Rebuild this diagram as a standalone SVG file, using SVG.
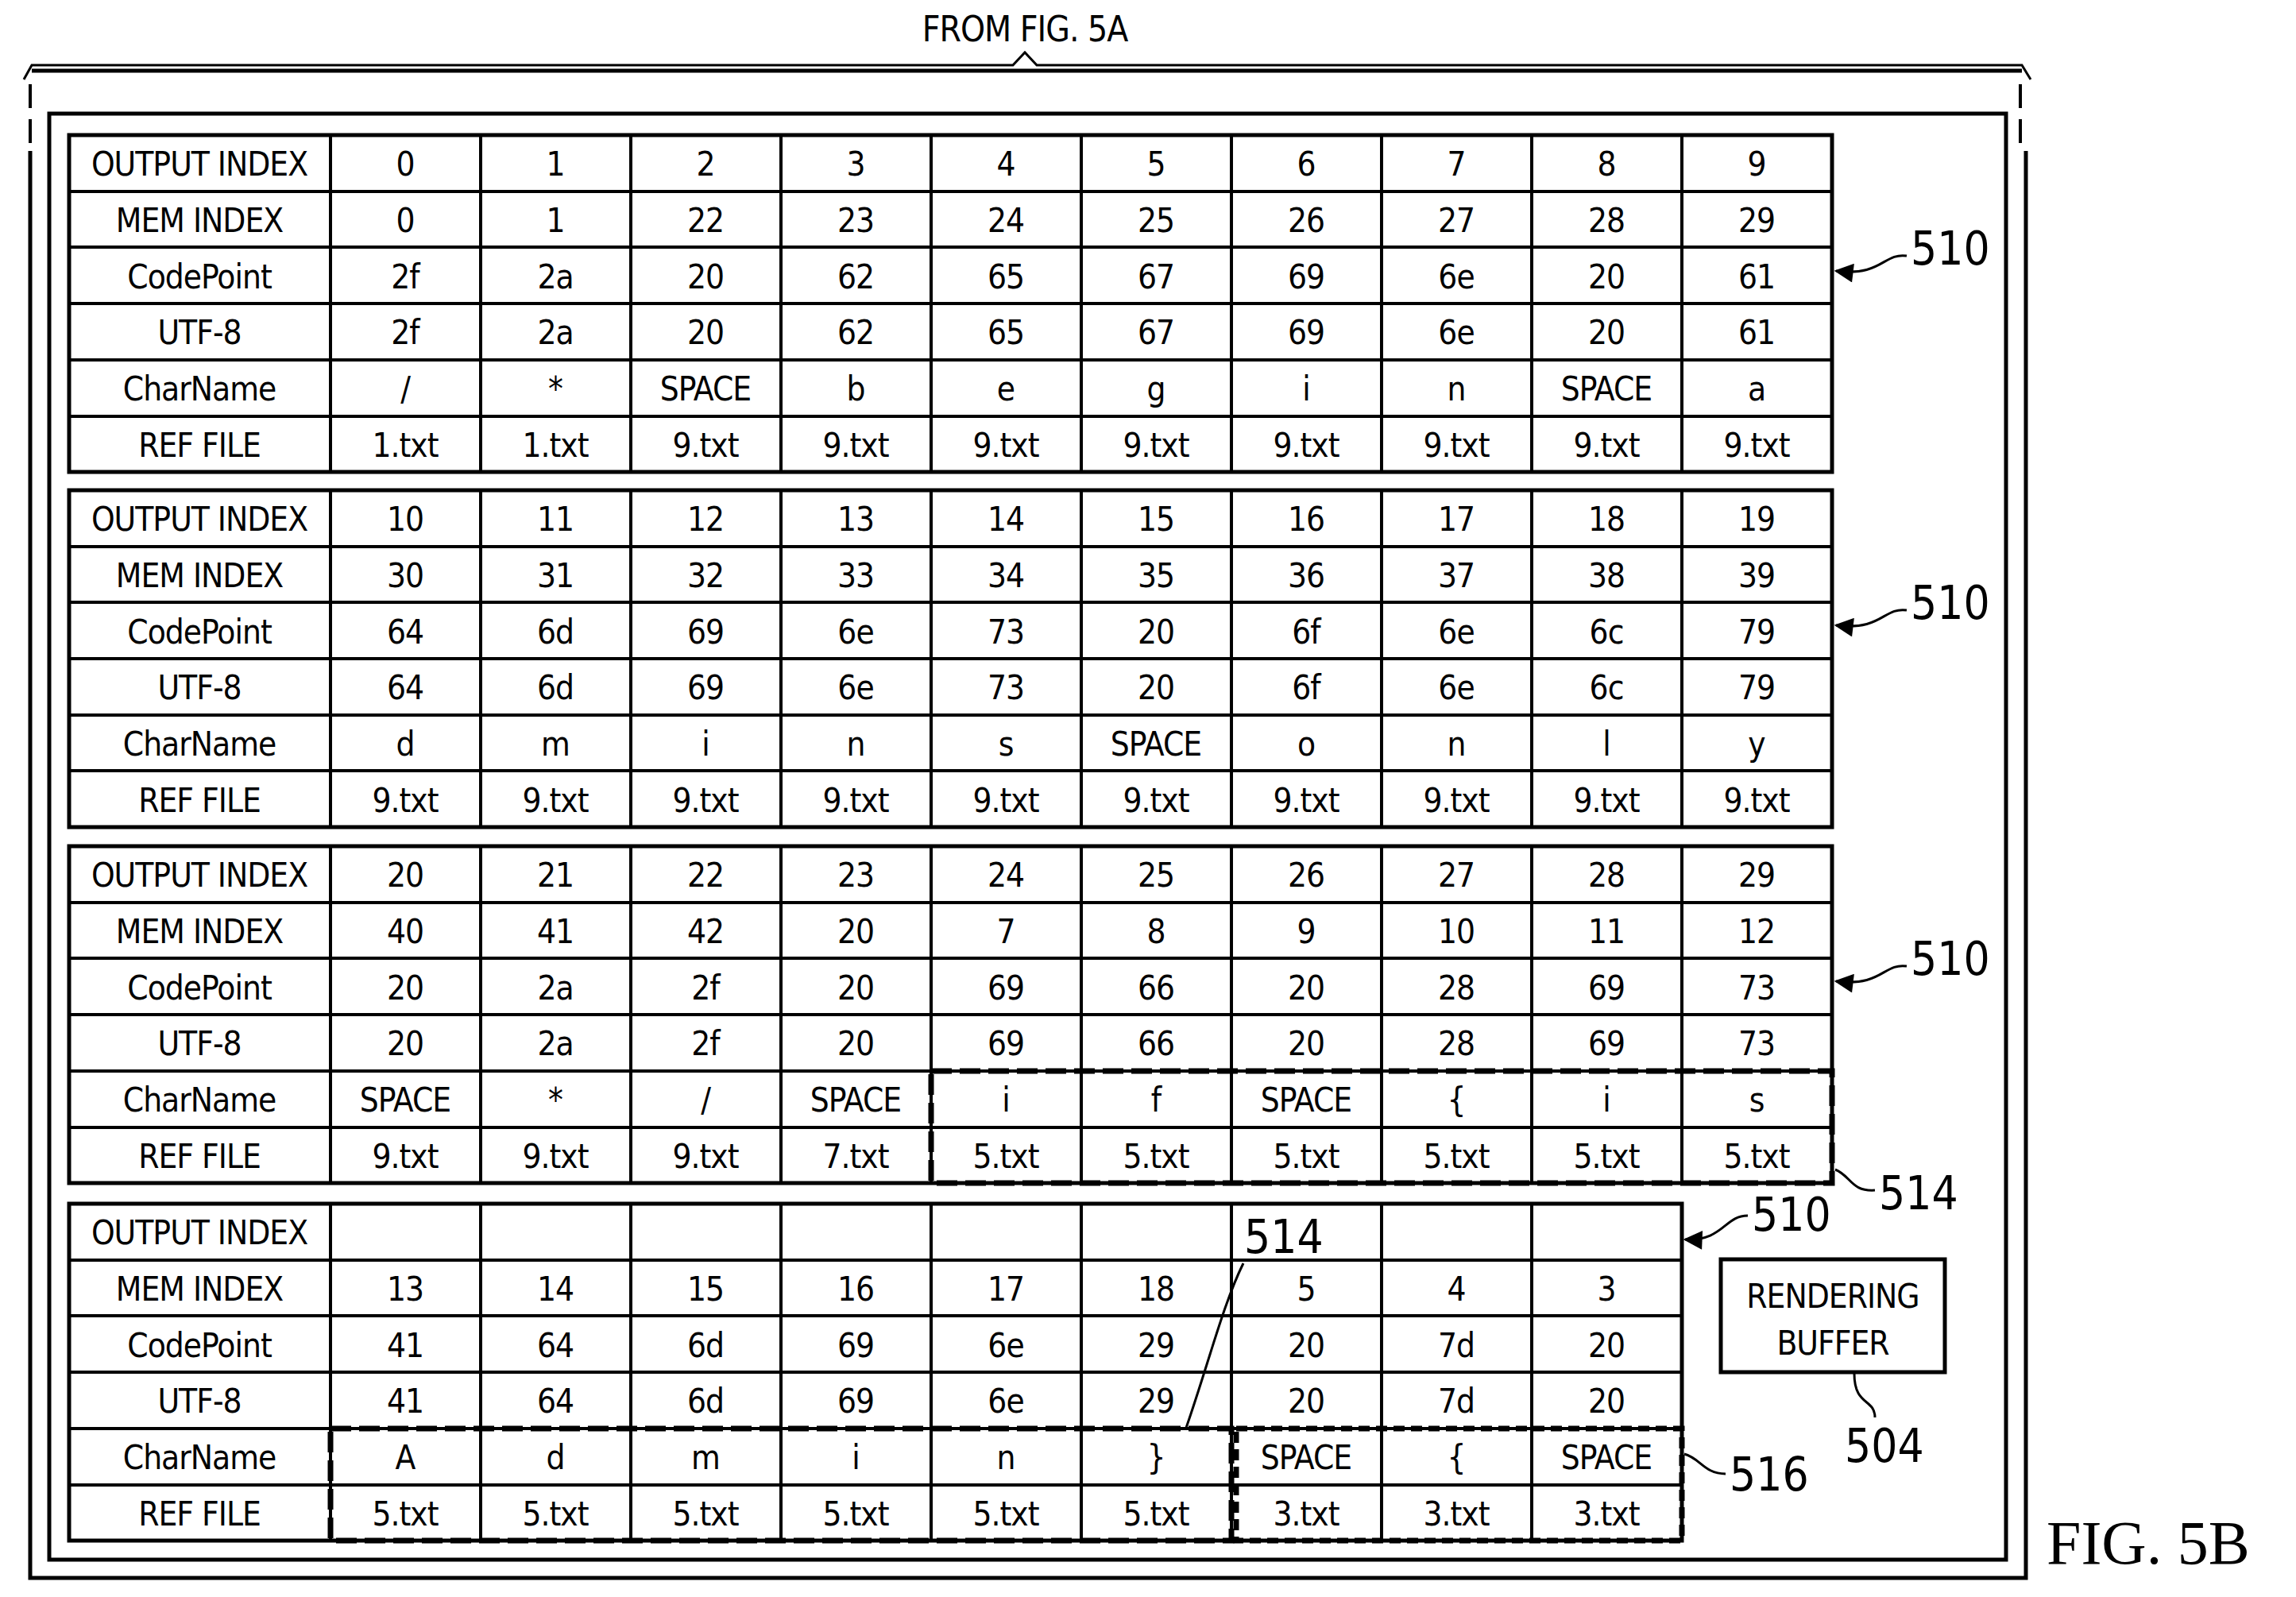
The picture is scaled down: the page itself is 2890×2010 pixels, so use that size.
<svg xmlns="http://www.w3.org/2000/svg" width="2890" height="2010" viewBox="0 0 2890 2010">
<style>
.t{font-family:"DejaVu Sans Condensed","Liberation Sans",sans-serif;font-size:42px;text-anchor:middle;fill:#000;letter-spacing:-1px}
.r{font-family:"DejaVu Sans Condensed","Liberation Sans",sans-serif;font-size:58px;fill:#000}
.g{fill:none;stroke:#000;stroke-width:4}
.b{fill:none;stroke:#000;stroke-width:5}
.d{fill:none;stroke:#000;stroke-width:7;stroke-dasharray:26,10}
.d2{fill:none;stroke:#000;stroke-width:7;stroke-dasharray:14,8}
.l{fill:none;stroke:#000;stroke-width:3}
</style>
<defs>
<marker id="ah" viewBox="0 0 10 10" refX="9" refY="5" markerWidth="30" markerHeight="24" orient="auto" markerUnits="userSpaceOnUse"><path d="M0,0 L10,5 L0,10 z"/></marker></defs>
<text class="t" x="1290" y="52" style="font-size:44px">FROM FIG. 5A</text>
<path class="l" d="M30,100 L40,82 L1275,82 L1290,66 L1305,82 L2545,82 L2556,100"/>
<path class="b" d="M40,89 L2545,89"/>
<path class="g" d="M38,106 V190 M2543,106 V190" style="stroke-dasharray:30,14"/>
<path class="b" d="M38,190 V1986 H2550 V190"/>
<rect class="b" x="62" y="143" width="2463" height="1820"/>
<g id="table1">
<rect class="b" x="87" y="170" width="2219" height="424"/>
<path class="g" d="M87,241H2306M87,311H2306M87,382H2306M87,453H2306M87,524H2306M416,170V594M605,170V594M794,170V594M983,170V594M1172,170V594M1361,170V594M1550,170V594M1739,170V594M1928,170V594M2117,170V594"/>
<text class="t" x="251" y="221">OUTPUT INDEX</text><text class="t" x="251" y="292">MEM INDEX</text><text class="t" x="251" y="363">CodePoint</text><text class="t" x="251" y="433">UTF-8</text><text class="t" x="251" y="504">CharName</text><text class="t" x="251" y="575">REF FILE</text>
<text class="t" y="221"><tspan x="510">0</tspan><tspan x="699">1</tspan><tspan x="888">2</tspan><tspan x="1077">3</tspan><tspan x="1266">4</tspan><tspan x="1455">5</tspan><tspan x="1644">6</tspan><tspan x="1833">7</tspan><tspan x="2022">8</tspan><tspan x="2211">9</tspan></text>
<text class="t" y="292"><tspan x="510">0</tspan><tspan x="699">1</tspan><tspan x="888">22</tspan><tspan x="1077">23</tspan><tspan x="1266">24</tspan><tspan x="1455">25</tspan><tspan x="1644">26</tspan><tspan x="1833">27</tspan><tspan x="2022">28</tspan><tspan x="2211">29</tspan></text>
<text class="t" y="363"><tspan x="510">2f</tspan><tspan x="699">2a</tspan><tspan x="888">20</tspan><tspan x="1077">62</tspan><tspan x="1266">65</tspan><tspan x="1455">67</tspan><tspan x="1644">69</tspan><tspan x="1833">6e</tspan><tspan x="2022">20</tspan><tspan x="2211">61</tspan></text>
<text class="t" y="433"><tspan x="510">2f</tspan><tspan x="699">2a</tspan><tspan x="888">20</tspan><tspan x="1077">62</tspan><tspan x="1266">65</tspan><tspan x="1455">67</tspan><tspan x="1644">69</tspan><tspan x="1833">6e</tspan><tspan x="2022">20</tspan><tspan x="2211">61</tspan></text>
<text class="t" y="504"><tspan x="510">/</tspan><tspan x="699">*</tspan><tspan x="888">SPACE</tspan><tspan x="1077">b</tspan><tspan x="1266">e</tspan><tspan x="1455">g</tspan><tspan x="1644">i</tspan><tspan x="1833">n</tspan><tspan x="2022">SPACE</tspan><tspan x="2211">a</tspan></text>
<text class="t" y="575"><tspan x="510">1.txt</tspan><tspan x="699">1.txt</tspan><tspan x="888">9.txt</tspan><tspan x="1077">9.txt</tspan><tspan x="1266">9.txt</tspan><tspan x="1455">9.txt</tspan><tspan x="1644">9.txt</tspan><tspan x="1833">9.txt</tspan><tspan x="2022">9.txt</tspan><tspan x="2211">9.txt</tspan></text>
</g>
<g id="table2">
<rect class="b" x="87" y="617" width="2219" height="424"/>
<path class="g" d="M87,688H2306M87,758H2306M87,829H2306M87,900H2306M87,970H2306M416,617V1041M605,617V1041M794,617V1041M983,617V1041M1172,617V1041M1361,617V1041M1550,617V1041M1739,617V1041M1928,617V1041M2117,617V1041"/>
<text class="t" x="251" y="668">OUTPUT INDEX</text><text class="t" x="251" y="739">MEM INDEX</text><text class="t" x="251" y="810">CodePoint</text><text class="t" x="251" y="880">UTF-8</text><text class="t" x="251" y="951">CharName</text><text class="t" x="251" y="1022">REF FILE</text>
<text class="t" y="668"><tspan x="510">10</tspan><tspan x="699">11</tspan><tspan x="888">12</tspan><tspan x="1077">13</tspan><tspan x="1266">14</tspan><tspan x="1455">15</tspan><tspan x="1644">16</tspan><tspan x="1833">17</tspan><tspan x="2022">18</tspan><tspan x="2211">19</tspan></text>
<text class="t" y="739"><tspan x="510">30</tspan><tspan x="699">31</tspan><tspan x="888">32</tspan><tspan x="1077">33</tspan><tspan x="1266">34</tspan><tspan x="1455">35</tspan><tspan x="1644">36</tspan><tspan x="1833">37</tspan><tspan x="2022">38</tspan><tspan x="2211">39</tspan></text>
<text class="t" y="810"><tspan x="510">64</tspan><tspan x="699">6d</tspan><tspan x="888">69</tspan><tspan x="1077">6e</tspan><tspan x="1266">73</tspan><tspan x="1455">20</tspan><tspan x="1644">6f</tspan><tspan x="1833">6e</tspan><tspan x="2022">6c</tspan><tspan x="2211">79</tspan></text>
<text class="t" y="880"><tspan x="510">64</tspan><tspan x="699">6d</tspan><tspan x="888">69</tspan><tspan x="1077">6e</tspan><tspan x="1266">73</tspan><tspan x="1455">20</tspan><tspan x="1644">6f</tspan><tspan x="1833">6e</tspan><tspan x="2022">6c</tspan><tspan x="2211">79</tspan></text>
<text class="t" y="951"><tspan x="510">d</tspan><tspan x="699">m</tspan><tspan x="888">i</tspan><tspan x="1077">n</tspan><tspan x="1266">s</tspan><tspan x="1455">SPACE</tspan><tspan x="1644">o</tspan><tspan x="1833">n</tspan><tspan x="2022">l</tspan><tspan x="2211">y</tspan></text>
<text class="t" y="1022"><tspan x="510">9.txt</tspan><tspan x="699">9.txt</tspan><tspan x="888">9.txt</tspan><tspan x="1077">9.txt</tspan><tspan x="1266">9.txt</tspan><tspan x="1455">9.txt</tspan><tspan x="1644">9.txt</tspan><tspan x="1833">9.txt</tspan><tspan x="2022">9.txt</tspan><tspan x="2211">9.txt</tspan></text>
</g>
<g id="table3">
<rect class="b" x="87" y="1065" width="2219" height="424"/>
<path class="g" d="M87,1136H2306M87,1206H2306M87,1277H2306M87,1348H2306M87,1419H2306M416,1065V1489M605,1065V1489M794,1065V1489M983,1065V1489M1172,1065V1489M1361,1065V1489M1550,1065V1489M1739,1065V1489M1928,1065V1489M2117,1065V1489"/>
<text class="t" x="251" y="1116">OUTPUT INDEX</text><text class="t" x="251" y="1187">MEM INDEX</text><text class="t" x="251" y="1258">CodePoint</text><text class="t" x="251" y="1328">UTF-8</text><text class="t" x="251" y="1399">CharName</text><text class="t" x="251" y="1470">REF FILE</text>
<text class="t" y="1116"><tspan x="510">20</tspan><tspan x="699">21</tspan><tspan x="888">22</tspan><tspan x="1077">23</tspan><tspan x="1266">24</tspan><tspan x="1455">25</tspan><tspan x="1644">26</tspan><tspan x="1833">27</tspan><tspan x="2022">28</tspan><tspan x="2211">29</tspan></text>
<text class="t" y="1187"><tspan x="510">40</tspan><tspan x="699">41</tspan><tspan x="888">42</tspan><tspan x="1077">20</tspan><tspan x="1266">7</tspan><tspan x="1455">8</tspan><tspan x="1644">9</tspan><tspan x="1833">10</tspan><tspan x="2022">11</tspan><tspan x="2211">12</tspan></text>
<text class="t" y="1258"><tspan x="510">20</tspan><tspan x="699">2a</tspan><tspan x="888">2f</tspan><tspan x="1077">20</tspan><tspan x="1266">69</tspan><tspan x="1455">66</tspan><tspan x="1644">20</tspan><tspan x="1833">28</tspan><tspan x="2022">69</tspan><tspan x="2211">73</tspan></text>
<text class="t" y="1328"><tspan x="510">20</tspan><tspan x="699">2a</tspan><tspan x="888">2f</tspan><tspan x="1077">20</tspan><tspan x="1266">69</tspan><tspan x="1455">66</tspan><tspan x="1644">20</tspan><tspan x="1833">28</tspan><tspan x="2022">69</tspan><tspan x="2211">73</tspan></text>
<text class="t" y="1399"><tspan x="510">SPACE</tspan><tspan x="699">*</tspan><tspan x="888">/</tspan><tspan x="1077">SPACE</tspan><tspan x="1266">i</tspan><tspan x="1455">f</tspan><tspan x="1644">SPACE</tspan><tspan x="1833">{</tspan><tspan x="2022">i</tspan><tspan x="2211">s</tspan></text>
<text class="t" y="1470"><tspan x="510">9.txt</tspan><tspan x="699">9.txt</tspan><tspan x="888">9.txt</tspan><tspan x="1077">7.txt</tspan><tspan x="1266">5.txt</tspan><tspan x="1455">5.txt</tspan><tspan x="1644">5.txt</tspan><tspan x="1833">5.txt</tspan><tspan x="2022">5.txt</tspan><tspan x="2211">5.txt</tspan></text>
<rect class="d" x="1172" y="1348" width="1134" height="141"/>
</g>
<g id="table4">
<rect class="b" x="87" y="1515" width="2030" height="424"/>
<path class="g" d="M87,1586H2117M87,1656H2117M87,1727H2117M87,1798H2117M87,1869H2117M416,1515V1939M605,1515V1939M794,1515V1939M983,1515V1939M1172,1515V1939M1361,1515V1939M1550,1515V1939M1739,1515V1939M1928,1515V1939"/>
<text class="t" x="251" y="1566">OUTPUT INDEX</text><text class="t" x="251" y="1637">MEM INDEX</text><text class="t" x="251" y="1708">CodePoint</text><text class="t" x="251" y="1778">UTF-8</text><text class="t" x="251" y="1849">CharName</text><text class="t" x="251" y="1920">REF FILE</text>
<text class="t" y="1637"><tspan x="510">13</tspan><tspan x="699">14</tspan><tspan x="888">15</tspan><tspan x="1077">16</tspan><tspan x="1266">17</tspan><tspan x="1455">18</tspan><tspan x="1644">5</tspan><tspan x="1833">4</tspan><tspan x="2022">3</tspan></text>
<text class="t" y="1708"><tspan x="510">41</tspan><tspan x="699">64</tspan><tspan x="888">6d</tspan><tspan x="1077">69</tspan><tspan x="1266">6e</tspan><tspan x="1455">29</tspan><tspan x="1644">20</tspan><tspan x="1833">7d</tspan><tspan x="2022">20</tspan></text>
<text class="t" y="1778"><tspan x="510">41</tspan><tspan x="699">64</tspan><tspan x="888">6d</tspan><tspan x="1077">69</tspan><tspan x="1266">6e</tspan><tspan x="1455">29</tspan><tspan x="1644">20</tspan><tspan x="1833">7d</tspan><tspan x="2022">20</tspan></text>
<text class="t" y="1849"><tspan x="510">A</tspan><tspan x="699">d</tspan><tspan x="888">m</tspan><tspan x="1077">i</tspan><tspan x="1266">n</tspan><tspan x="1455">}</tspan><tspan x="1644">SPACE</tspan><tspan x="1833">{</tspan><tspan x="2022">SPACE</tspan></text>
<text class="t" y="1920"><tspan x="510">5.txt</tspan><tspan x="699">5.txt</tspan><tspan x="888">5.txt</tspan><tspan x="1077">5.txt</tspan><tspan x="1266">5.txt</tspan><tspan x="1455">5.txt</tspan><tspan x="1644">3.txt</tspan><tspan x="1833">3.txt</tspan><tspan x="2022">3.txt</tspan></text>
<rect class="d" x="416" y="1798" width="1134" height="141"/>
<rect class="d2" x="1556" y="1798" width="561" height="141"/>
<rect x="1555" y="1530" width="115" height="52" fill="#fff"/>
</g>
<g id="buffer">
<rect class="b" x="2166" y="1585" width="282" height="142"/>
<text class="t" x="2307" y="1646">RENDERING</text>
<text class="t" x="2307" y="1705">BUFFER</text>
</g>
<g id="connectors">
<path class="l" d="M2400,322 C2370,318 2370,348 2311,341" marker-end="url(#ah)"/>
<path class="l" d="M2400,768 C2370,764 2370,794 2311,787" marker-end="url(#ah)"/>
<path class="l" d="M2400,1216 C2370,1212 2370,1242 2311,1235" marker-end="url(#ah)"/>
<path class="l" d="M2200,1530 C2170,1530 2170,1562 2121,1560" marker-end="url(#ah)"/>
<path class="l" d="M2310,1472 C2330,1480 2330,1500 2360,1498"/>
<path class="l" d="M2120,1830 C2140,1835 2145,1855 2172,1855"/>
<path class="l" d="M2334,1729 C2334,1770 2360,1760 2360,1784"/>
<path class="l" d="M1565,1590 C1540,1640 1520,1720 1493,1797"/>
</g>
<text class="r" x="2405" y="333">510</text>
<text class="r" x="2405" y="779">510</text>
<text class="r" x="2405" y="1227">510</text>
<text class="r" x="2205" y="1549">510</text>
<text class="r" x="2365" y="1522">514</text>
<text class="r" x="2177" y="1876">516</text>
<text class="r" x="2322" y="1840">504</text>
<text class="r" x="1566" y="1577">514</text>
<text x="2576" y="1968" style="font-family:'Liberation Serif',serif;font-size:78px">FIG. 5B</text>
</svg>
